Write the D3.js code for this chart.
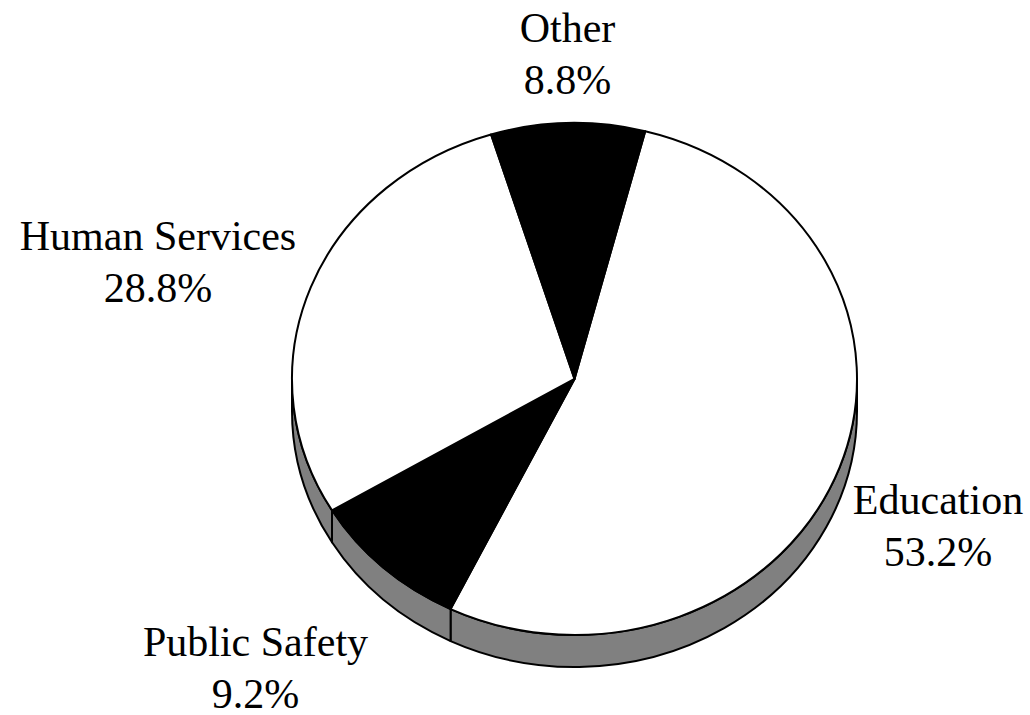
<!DOCTYPE html>
<html>
<head>
<meta charset="utf-8">
<script src="https://cdn.jsdelivr.net/npm/d3@7"></script>
<style>
  html, body { margin: 0; padding: 0; background: #fff; }
  svg { display: block; }
</style>
</head>
<body>
<svg id="chart" width="1030" height="715"></svg>
<script>
// ---- data ----
const categories = ["Education", "Public Safety", "Human Services", "Other"];
const shares = [53.2, 9.2, 28.8, 8.8];
const sliceFills = ["#ffffff", "#000000", "#ffffff", "#000000"];

// ---- layout ----
const W = 1030, H = 715;
const cx = 574.5, cy = 379, rx = 282.5, ry = 256, depth = 32;
const startDeg = 14.5;
const fontSize = 42, lineGap = 52;
// label block anchor (center x, first baseline y)
const labelAnchor = {
  "Education": [938, 514],
  "Public Safety": [255.5, 656],
  "Human Services": [158, 249.5],
  "Other": [567.5, 41.7]
};

const svg = d3.select("#chart");
const color = d3.scaleOrdinal().domain(categories).range(sliceFills);
const fmt = v => d3.format(".1f")(v) + "%";

const data = categories.map((c, i) => ({ cat: c, value: shares[i] }));
const a0 = startDeg * Math.PI / 180;
const pie = d3.pie().sort(null).value(d => d.value).startAngle(a0).endAngle(a0 + 2 * Math.PI);
const arcs = pie(data);

function pt(a, dy = 0) {
  return [cx + rx * Math.sin(a), cy - ry * Math.cos(a) + dy];
}
function topPath(d) {
  const p0 = pt(d.startAngle), p1 = pt(d.endAngle);
  const large = (d.endAngle - d.startAngle) > Math.PI ? 1 : 0;
  return `M${cx},${cy}L${p0[0]},${p0[1]}A${rx},${ry} 0 ${large} 1 ${p1[0]},${p1[1]}Z`;
}
function sidePath(s, e) {
  const t0 = pt(s), t1 = pt(e), b0 = pt(s, depth), b1 = pt(e, depth);
  const large = (e - s) > Math.PI ? 1 : 0;
  return `M${t0[0]},${t0[1]}A${rx},${ry} 0 ${large} 1 ${t1[0]},${t1[1]}` +
         `L${b1[0]},${b1[1]}A${rx},${ry} 0 ${large} 0 ${b0[0]},${b0[1]}Z`;
}

// side walls (front half only: angles PI/2 .. 3PI/2, also checking +2PI wrap)
const sides = [];
arcs.forEach(d => {
  [0, 2 * Math.PI].forEach(off => {
    const s = Math.max(d.startAngle, Math.PI / 2 + off);
    const e = Math.min(d.endAngle, 3 * Math.PI / 2 + off);
    if (e > s) sides.push({ s, e, cat: d.data.cat });
  });
});

svg.append("g").selectAll("path").data(sides).join("path")
  .attr("d", d => sidePath(d.s, d.e))
  .attr("fill", "#808080")
  .attr("stroke", "#000")
  .attr("stroke-width", 2)
  .attr("stroke-linejoin", "round");

svg.append("g").selectAll("path").data(arcs).join("path")
  .attr("d", topPath)
  .attr("fill", d => color(d.data.cat))
  .attr("stroke", "#000")
  .attr("stroke-width", 2)
  .attr("stroke-linejoin", "round");

// labels
const lg = svg.append("g")
  .attr("font-family", "'Liberation Serif', 'Times New Roman', serif")
  .attr("font-size", fontSize)
  .attr("fill", "#000")
  .attr("text-anchor", "middle");
arcs.forEach(d => {
  const [x, y] = labelAnchor[d.data.cat];
  const t = lg.append("text").attr("x", x).attr("y", y);
  t.append("tspan").attr("x", x).attr("y", y).text(d.data.cat);
  t.append("tspan").attr("x", x).attr("y", y + lineGap).text(fmt(d.data.value));
});
</script>
</body>
</html>
